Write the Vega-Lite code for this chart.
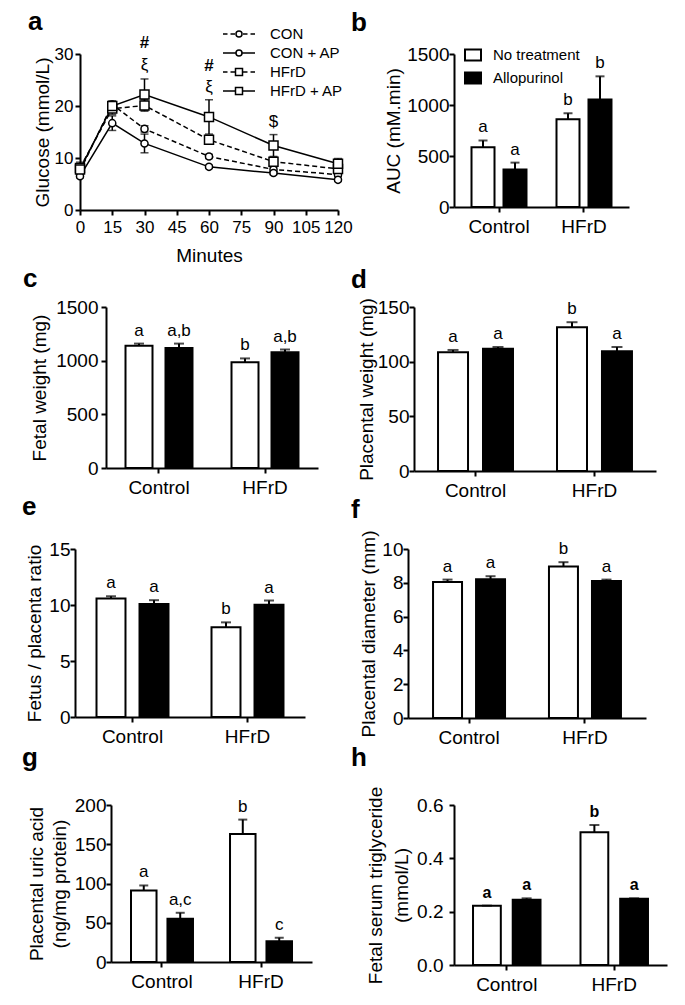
{
  "$schema": "https://vega.github.io/schema/vega-lite/v6.json",
  "padding": {"left": 10, "top": 9, "right": 5, "bottom": 5},
  "config": {
    "view": {"stroke": null},
    "font": "Liberation Sans",
    "axis": {"domainColor": "black", "domainWidth": 2, "tickColor": "black", "tickWidth": 2, "tickSize": 5, "labelColor": "black", "labelFontSize": 19, "labelFont": "Liberation Sans", "titleFont": "Liberation Sans", "titleFontSize": 19, "titleFontWeight": "normal", "titleColor": "black", "grid": false, "labelFlush": false, "labelOverlap": false},
    "title": {"font": "Liberation Sans", "fontSize": 26, "fontWeight": "bold", "color": "black", "anchor": "start", "frame": "group", "baseline": "alphabetic"},
    "legend": {"labelFont": "Liberation Sans", "labelColor": "black", "labelFontSize": 15},
    "text": {"font": "Liberation Sans", "color": "black"}
  },
  "resolve": {"scale": {"fill": "independent", "xOffset": "independent", "shape": "independent"}},
  "spacing": 1,
  "vconcat": [
    {
      "spacing": -2,
      "resolve": {"scale": {"fill": "independent", "xOffset": "independent", "shape": "independent"}},
      "hconcat": [
        {
          "spacing": 0,
          "resolve": {"scale": {"fill": "independent", "xOffset": "independent", "shape": "independent"}},
          "hconcat": [
            {"width": 18, "height": 1, "data": {"values": []}, "mark": "point"},
            {
              "width": 258, "height": 156,
              "title": {"text": "a", "dx": -52, "offset": -10},
              "data": {"values": [
                {"series": "CON", "minute": 0, "glucose": 7.5, "lo": 7.2, "hi": 7.8},
                {"series": "CON", "minute": 15, "glucose": 20.3, "lo": 19.6, "hi": 21.0},
                {"series": "CON", "minute": 30, "glucose": 15.6, "lo": 15.0, "hi": 16.2},
                {"series": "CON", "minute": 60, "glucose": 10.3, "lo": 9.9, "hi": 10.7},
                {"series": "CON", "minute": 90, "glucose": 7.8, "lo": 7.4, "hi": 8.2},
                {"series": "CON", "minute": 120, "glucose": 6.8, "lo": 6.5, "hi": 7.1},
                {"series": "CON + AP", "minute": 0, "glucose": 6.5, "lo": 6.2, "hi": 6.8},
                {"series": "CON + AP", "minute": 15, "glucose": 16.7, "lo": 15.3, "hi": 18.1},
                {"series": "CON + AP", "minute": 30, "glucose": 12.8, "lo": 11.0, "hi": 14.6},
                {"series": "CON + AP", "minute": 60, "glucose": 8.3, "lo": 8.0, "hi": 8.6},
                {"series": "CON + AP", "minute": 90, "glucose": 7.1, "lo": 6.8, "hi": 7.4},
                {"series": "CON + AP", "minute": 120, "glucose": 5.8, "lo": 5.5, "hi": 6.1},
                {"series": "HFrD", "minute": 0, "glucose": 8.1, "lo": 7.7, "hi": 8.5},
                {"series": "HFrD", "minute": 15, "glucose": 19.5, "lo": 18.4, "hi": 20.6},
                {"series": "HFrD", "minute": 30, "glucose": 20.1, "lo": 19.0, "hi": 21.2},
                {"series": "HFrD", "minute": 60, "glucose": 13.5, "lo": 12.7, "hi": 14.3},
                {"series": "HFrD", "minute": 90, "glucose": 9.3, "lo": 8.5, "hi": 10.1},
                {"series": "HFrD", "minute": 120, "glucose": 7.9, "lo": 7.3, "hi": 8.5},
                {"series": "HFrD + AP", "minute": 0, "glucose": 7.8, "lo": 6.6, "hi": 9.2},
                {"series": "HFrD + AP", "minute": 15, "glucose": 20.0, "lo": 19.2, "hi": 20.8},
                {"series": "HFrD + AP", "minute": 30, "glucose": 22.2, "lo": 19.2, "hi": 25.2},
                {"series": "HFrD + AP", "minute": 60, "glucose": 17.9, "lo": 14.6, "hi": 21.2},
                {"series": "HFrD + AP", "minute": 90, "glucose": 12.4, "lo": 10.3, "hi": 14.5},
                {"series": "HFrD + AP", "minute": 120, "glucose": 8.9, "lo": 7.9, "hi": 9.9}
              ]},
              "layer": [
                {
                  "mark": {"type": "rule", "color": "black", "strokeWidth": 1.5},
                  "encoding": {
                    "x": {"field": "minute", "type": "quantitative", "title": "Minutes", "scale": {"domain": [0, 120], "nice": false}, "axis": {"values": [0, 15, 30, 45, 60, 75, 90, 105, 120], "format": "d", "tickCount": 20, "labelFontSize": 17, "labelPadding": 4, "titlePadding": 11, "labelOverlap": false, "labelFlush": false}},
                    "y": {"field": "lo", "type": "quantitative", "title": "Glucose (mmol/L)", "scale": {"domain": [0, 30], "nice": false}, "axis": {"values": [0, 10, 20, 30], "format": "d", "tickCount": 20, "labelFontSize": 17, "labelPadding": 2, "titlePadding": 2, "labelOverlap": false, "labelFlush": false}},
                    "y2": {"field": "hi"}
                  }
                },
                {
                  "mark": {"type": "tick", "orient": "horizontal", "size": 8, "thickness": 1.5, "color": "black"},
                  "encoding": {
                    "x": {"field": "minute", "type": "quantitative", "title": "Minutes"},
                    "y": {"field": "hi", "type": "quantitative", "title": "Glucose (mmol/L)"}
                  }
                },
                {
                  "mark": {"type": "tick", "orient": "horizontal", "size": 8, "thickness": 1.5, "color": "black"},
                  "encoding": {
                    "x": {"field": "minute", "type": "quantitative", "title": "Minutes"},
                    "y": {"field": "lo", "type": "quantitative", "title": "Glucose (mmol/L)"}
                  }
                },
                {
                  "transform": [{"filter": {"field": "series", "oneOf": ["CON", "HFrD"]}}],
                  "mark": {"type": "line", "color": "black", "strokeWidth": 1.5, "strokeDash": [5, 3]},
                  "encoding": {
                    "x": {"field": "minute", "type": "quantitative", "title": "Minutes"},
                    "y": {"field": "glucose", "type": "quantitative", "title": "Glucose (mmol/L)"},
                    "detail": {"field": "series", "type": "nominal"}
                  }
                },
                {
                  "transform": [{"filter": {"field": "series", "oneOf": ["CON + AP", "HFrD + AP"]}}],
                  "mark": {"type": "line", "color": "black", "strokeWidth": 1.5},
                  "encoding": {
                    "x": {"field": "minute", "type": "quantitative", "title": "Minutes"},
                    "y": {"field": "glucose", "type": "quantitative", "title": "Glucose (mmol/L)"},
                    "detail": {"field": "series", "type": "nominal"}
                  }
                },
                {
                  "transform": [{"filter": {"field": "series", "oneOf": ["CON", "CON + AP"]}}],
                  "mark": {"type": "point", "shape": "circle", "size": 50, "filled": true, "fill": "white", "stroke": "black", "strokeWidth": 1.5, "opacity": 1},
                  "encoding": {
                    "x": {"field": "minute", "type": "quantitative", "title": "Minutes"},
                    "y": {"field": "glucose", "type": "quantitative", "title": "Glucose (mmol/L)"}
                  }
                },
                {
                  "transform": [{"filter": {"field": "series", "oneOf": ["HFrD", "HFrD + AP"]}}],
                  "mark": {"type": "point", "shape": "square", "size": 81, "filled": true, "fill": "white", "stroke": "black", "strokeWidth": 1.5, "opacity": 1},
                  "encoding": {
                    "x": {"field": "minute", "type": "quantitative", "title": "Minutes"},
                    "y": {"field": "glucose", "type": "quantitative", "title": "Glucose (mmol/L)"}
                  }
                },
                {
                  "transform": [{"filter": "false"}],
                  "mark": {"type": "point", "filled": false, "color": "black", "strokeWidth": 1.5, "opacity": 1},
                  "encoding": {
                    "x": {"field": "minute", "type": "quantitative", "title": "Minutes"},
                    "y": {"field": "glucose", "type": "quantitative", "title": "Glucose (mmol/L)"},
                    "shape": {
                      "field": "series", "type": "nominal",
                      "scale": {
                        "domain": ["CON", "CON + AP", "HFrD", "HFrD + AP"],
                        "range": [
                          "M-3,0H-2.4375M-2.0625,0H-1.5M-1.375,0A0.375,0.375,0,1,1,-0.625,0A0.375,0.375,0,1,1,-1.375,0ZM-0.5,0H0.0625M0.4375,0H1",
                          "M-3,0H-1.375M-0.625,0H1M-1.375,0A0.375,0.375,0,1,1,-0.625,0A0.375,0.375,0,1,1,-1.375,0Z",
                          "M-3,0H-2.4375M-2.0625,0H-1.5M-1.4375,-0.4375H-0.5625V0.4375H-1.4375ZM-0.5,0H0.0625M0.4375,0H1",
                          "M-3,0H-1.4375M-0.5625,0H1M-1.4375,-0.4375H-0.5625V0.4375H-1.4375Z"
                        ]
                      },
                      "legend": {
                        "orient": "none", "legendX": 158, "legendY": -29, "title": null, "padding": 0, "rowPadding": 2,
                        "labelOffset": 14, "labelFontSize": 15, "symbolSize": 256,
                        "symbolStrokeColor": "black", "symbolStrokeWidth": 1.5, "symbolOpacity": 1
                      }
                    }
                  }
                },
                {
                  "data": {"values": [
                    {"minute": 30, "yv": 32.1, "t": "#"},
                    {"minute": 60, "yv": 27.6, "t": "#"}
                  ]},
                  "mark": {"type": "text", "fontSize": 17, "fontWeight": "bold", "baseline": "middle"},
                  "encoding": {
                    "x": {"field": "minute", "type": "quantitative", "title": "Minutes"},
                    "y": {"field": "yv", "type": "quantitative", "title": "Glucose (mmol/L)"},
                    "text": {"field": "t"}
                  }
                },
                {
                  "data": {"values": [
                    {"minute": 30, "yv": 27.9, "t": "ξ"},
                    {"minute": 60, "yv": 23.6, "t": "ξ"},
                    {"minute": 90, "yv": 17.0, "t": "$"}
                  ]},
                  "mark": {"type": "text", "fontSize": 17, "baseline": "middle"},
                  "encoding": {
                    "x": {"field": "minute", "type": "quantitative", "title": "Minutes"},
                    "y": {"field": "yv", "type": "quantitative", "title": "Glucose (mmol/L)"},
                    "text": {"field": "t"}
                  }
                }
              ]
            }
          ]
        },
        {
          "width": 175, "height": 153,
          "title": {"text": "b", "dx": -103, "offset": 9},
          "data": {"values": [
            {"group": "Control", "treatment": "No treatment", "mean": 587, "upper": 652, "sig": "a"},
            {"group": "Control", "treatment": "Allopurinol", "mean": 368, "upper": 435, "sig": "a"},
            {"group": "HFrD", "treatment": "No treatment", "mean": 861, "upper": 919, "sig": "b"},
            {"group": "HFrD", "treatment": "Allopurinol", "mean": 1055, "upper": 1281, "sig": "b"}
          ]},
          "encoding": {
            "x": {"field": "group", "type": "nominal", "sort": ["Control", "HFrD"], "title": null, "scale": {"paddingInner": 0.353, "paddingOuter": 0.206}, "axis": {"labelAngle": 0, "labelPadding": 5}},
            "xOffset": {"field": "treatment", "type": "nominal", "sort": ["No treatment", "Allopurinol"], "scale": {"paddingInner": 0.281, "paddingOuter": 0}}
          },
          "layer": [
            {
              "mark": {"type": "bar", "stroke": "black", "strokeWidth": 2},
              "encoding": {
                "y": {"field": "mean", "type": "quantitative", "title": "AUC (mM.min)", "scale": {"domain": [0, 1500], "nice": false}, "axis": {"values": [0, 500, 1000, 1500], "tickCount": 20, "format": "d", "labelPadding": 0, "titlePadding": 3, "labelOverlap": false, "labelFlush": false}},
                "fill": {
                  "field": "treatment", "type": "nominal",
                  "scale": {"domain": ["No treatment", "Allopurinol"], "range": ["white", "black"]},
                  "legend": {
                    "orient": "none", "legendX": 10, "legendY": -8, "title": null, "padding": 0, "rowPadding": 3,
                    "labelOffset": 11, "labelFontSize": 15, "symbolType": "M-1,-0.68H1V0.68H-1Z", "symbolSize": 256,
                    "symbolStrokeColor": "black", "symbolStrokeWidth": 2
                  }
                }
              }
            },
            {"mark": {"type": "rule", "color": "black", "strokeWidth": 2}, "encoding": {"y": {"field": "mean", "type": "quantitative", "title": "AUC (mM.min)"}, "y2": {"field": "upper"}}},
            {"mark": {"type": "tick", "color": "black", "thickness": 2, "size": 9}, "encoding": {"y": {"field": "upper", "type": "quantitative", "title": "AUC (mM.min)"}}},
            {"mark": {"type": "text", "baseline": "alphabetic", "dy": -8, "fontSize": 17}, "encoding": {"y": {"field": "upper", "type": "quantitative", "title": "AUC (mM.min)"}, "text": {"field": "sig"}}}
          ]
        }
      ]
    },
    {
      "spacing": -6,
      "resolve": {"scale": {"fill": "independent", "xOffset": "independent", "shape": "independent"}},
      "vconcat": [
        {
          "spacing": 33,
          "resolve": {"scale": {"fill": "independent", "xOffset": "independent", "shape": "independent"}},
          "hconcat": [
            {
              "spacing": 0,
              "resolve": {"scale": {"fill": "independent", "xOffset": "independent", "shape": "independent"}},
              "hconcat": [
                {"width": 13, "height": 1, "data": {"values": []}, "mark": "point"},
                {
                  "width": 212, "height": 161,
                  "title": {"text": "c", "dx": -83, "offset": 6},
                  "data": {"values": [
                    {"group": "Control", "treatment": "No treatment", "mean": 1139, "upper": 1159, "sig": "a"},
                    {"group": "Control", "treatment": "Allopurinol", "mean": 1117, "upper": 1159, "sig": "a,b"},
                    {"group": "HFrD", "treatment": "No treatment", "mean": 986, "upper": 1021, "sig": "b"},
                    {"group": "HFrD", "treatment": "Allopurinol", "mean": 1079, "upper": 1104, "sig": "a,b"}
                  ]},
                  "encoding": {
                    "x": {"field": "group", "type": "nominal", "sort": ["Control", "HFrD"], "title": null, "scale": {"paddingInner": 0.368, "paddingOuter": 0.184}, "axis": {"labelAngle": 0, "labelPadding": 5}},
                    "xOffset": {"field": "treatment", "type": "nominal", "sort": ["No treatment", "Allopurinol"], "scale": {"paddingInner": 0.325, "paddingOuter": 0}}
                  },
                  "layer": [
                    {
                      "mark": {"type": "bar", "stroke": "black", "strokeWidth": 2},
                      "encoding": {
                        "y": {"field": "mean", "type": "quantitative", "title": "Fetal weight (mg)", "scale": {"domain": [0, 1500], "nice": false}, "axis": {"values": [0, 500, 1000, 1500], "tickCount": 20, "format": "d", "labelPadding": 3, "titlePadding": 6, "labelOverlap": false, "labelFlush": false}},
                        "fill": {"field": "treatment", "type": "nominal", "scale": {"domain": ["No treatment", "Allopurinol"], "range": ["white", "black"]}, "legend": null}
                      }
                    },
                    {"mark": {"type": "rule", "color": "black", "strokeWidth": 2}, "encoding": {"y": {"field": "mean", "type": "quantitative", "title": "Fetal weight (mg)"}, "y2": {"field": "upper"}}},
                    {"mark": {"type": "tick", "color": "black", "thickness": 2, "size": 10}, "encoding": {"y": {"field": "upper", "type": "quantitative", "title": "Fetal weight (mg)"}}},
                    {"mark": {"type": "text", "baseline": "alphabetic", "dy": -8, "fontSize": 17}, "encoding": {"y": {"field": "upper", "type": "quantitative", "title": "Fetal weight (mg)"}, "text": {"field": "sig"}}}
                  ]
                }
              ]
            },
            {
              "width": 242, "height": 164,
              "title": {"text": "d", "dx": -63, "offset": 5},
              "data": {"values": [
                {"group": "Control", "treatment": "No treatment", "mean": 108.7, "upper": 110.7, "sig": "a"},
                {"group": "Control", "treatment": "Allopurinol", "mean": 111.9, "upper": 113.4, "sig": "a"},
                {"group": "HFrD", "treatment": "No treatment", "mean": 131.4, "upper": 136.1, "sig": "b"},
                {"group": "HFrD", "treatment": "Allopurinol", "mean": 109.5, "upper": 113.4, "sig": "a"}
              ]},
              "encoding": {
                "x": {"field": "group", "type": "nominal", "sort": ["Control", "HFrD"], "title": null, "scale": {"paddingInner": 0.37, "paddingOuter": 0.202}, "axis": {"labelAngle": 0, "labelPadding": 5}},
                "xOffset": {"field": "treatment", "type": "nominal", "sort": ["No treatment", "Allopurinol"], "scale": {"paddingInner": 0.333, "paddingOuter": 0}}
              },
              "layer": [
                {
                  "mark": {"type": "bar", "stroke": "black", "strokeWidth": 2},
                  "encoding": {
                    "y": {"field": "mean", "type": "quantitative", "title": "Placental weight (mg)", "scale": {"domain": [0, 150], "nice": false}, "axis": {"values": [0, 50, 100, 150], "format": "d", "tickCount": 20, "labelPadding": 0, "titlePadding": 1, "labelOverlap": false, "labelFlush": false}},
                    "fill": {"field": "treatment", "type": "nominal", "scale": {"domain": ["No treatment", "Allopurinol"], "range": ["white", "black"]}, "legend": null}
                  }
                },
                {"mark": {"type": "rule", "color": "black", "strokeWidth": 2}, "encoding": {"y": {"field": "mean", "type": "quantitative", "title": "Placental weight (mg)"}, "y2": {"field": "upper"}}},
                {"mark": {"type": "tick", "color": "black", "thickness": 2, "size": 11}, "encoding": {"y": {"field": "upper", "type": "quantitative", "title": "Placental weight (mg)"}}},
                {"mark": {"type": "text", "baseline": "alphabetic", "dy": -8, "fontSize": 17}, "encoding": {"y": {"field": "upper", "type": "quantitative", "title": "Placental weight (mg)"}, "text": {"field": "sig"}}}
              ]
            }
          ]
        },
        {
          "spacing": -2,
          "resolve": {"scale": {"fill": "independent", "xOffset": "independent", "shape": "independent"}},
          "vconcat": [
            {
              "spacing": 46,
              "resolve": {"scale": {"fill": "independent", "xOffset": "independent", "shape": "independent"}},
              "hconcat": [
                {
                  "spacing": 0,
                  "resolve": {"scale": {"fill": "independent", "xOffset": "independent", "shape": "independent"}},
                  "hconcat": [
                    {"width": 12, "height": 1, "data": {"values": []}, "mark": "point"},
                    {
                      "width": 230, "height": 168,
                      "title": {"text": "e", "dx": -53, "offset": 20},
                      "data": {"values": [
                        {"group": "Control", "treatment": "No treatment", "mean": 10.57, "upper": 10.78, "sig": "a"},
                        {"group": "Control", "treatment": "Allopurinol", "mean": 10.08, "upper": 10.43, "sig": "a"},
                        {"group": "HFrD", "treatment": "No treatment", "mean": 8.01, "upper": 8.45, "sig": "b"},
                        {"group": "HFrD", "treatment": "Allopurinol", "mean": 10.02, "upper": 10.40, "sig": "a"}
                      ]},
                      "encoding": {
                        "x": {"field": "group", "type": "nominal", "sort": ["Control", "HFrD"], "title": null, "scale": {"paddingInner": 0.374, "paddingOuter": 0.187}, "axis": {"labelAngle": 0, "labelPadding": 5}},
                        "xOffset": {"field": "treatment", "type": "nominal", "sort": ["No treatment", "Allopurinol"], "scale": {"paddingInner": 0.326, "paddingOuter": 0}}
                      },
                      "layer": [
                        {
                          "mark": {"type": "bar", "stroke": "black", "strokeWidth": 2},
                          "encoding": {
                            "y": {"field": "mean", "type": "quantitative", "title": "Fetus / placenta ratio", "scale": {"domain": [0, 15], "nice": false}, "axis": {"values": [0, 5, 10, 15], "format": "d", "tickCount": 20, "labelPadding": 0, "titlePadding": 4, "labelOverlap": false, "labelFlush": false}},
                            "fill": {"field": "treatment", "type": "nominal", "scale": {"domain": ["No treatment", "Allopurinol"], "range": ["white", "black"]}, "legend": null}
                          }
                        },
                        {"mark": {"type": "rule", "color": "black", "strokeWidth": 2}, "encoding": {"y": {"field": "mean", "type": "quantitative", "title": "Fetus / placenta ratio"}, "y2": {"field": "upper"}}},
                        {"mark": {"type": "tick", "color": "black", "thickness": 2, "size": 10}, "encoding": {"y": {"field": "upper", "type": "quantitative", "title": "Fetus / placenta ratio"}}},
                        {"mark": {"type": "text", "baseline": "alphabetic", "dy": -8, "fontSize": 17}, "encoding": {"y": {"field": "upper", "type": "quantitative", "title": "Fetus / placenta ratio"}, "text": {"field": "sig"}}}
                      ]
                    }
                  ]
                },
                {
                  "width": 238, "height": 169,
                  "title": {"text": "f", "dx": -57, "offset": 7},
                  "data": {"values": [
                    {"group": "Control", "treatment": "No treatment", "mean": 8.05, "upper": 8.19, "sig": "a"},
                    {"group": "Control", "treatment": "Allopurinol", "mean": 8.21, "upper": 8.39, "sig": "a"},
                    {"group": "HFrD", "treatment": "No treatment", "mean": 8.97, "upper": 9.22, "sig": "b"},
                    {"group": "HFrD", "treatment": "Allopurinol", "mean": 8.11, "upper": 8.19, "sig": "a"}
                  ]},
                  "encoding": {
                    "x": {"field": "group", "type": "nominal", "sort": ["Control", "HFrD"], "title": null, "scale": {"paddingInner": 0.379, "paddingOuter": 0.216}, "axis": {"labelAngle": 0, "labelPadding": 5}},
                    "xOffset": {"field": "treatment", "type": "nominal", "sort": ["No treatment", "Allopurinol"], "scale": {"paddingInner": 0.326, "paddingOuter": 0}}
                  },
                  "layer": [
                    {
                      "mark": {"type": "bar", "stroke": "black", "strokeWidth": 2},
                      "encoding": {
                        "y": {"field": "mean", "type": "quantitative", "title": "Placental diameter (mm)", "scale": {"domain": [0, 10], "nice": false}, "axis": {"values": [0, 2, 4, 6, 8, 10], "format": "d", "tickCount": 20, "labelPadding": 0, "titlePadding": 3, "labelOverlap": false, "labelFlush": false}},
                        "fill": {"field": "treatment", "type": "nominal", "scale": {"domain": ["No treatment", "Allopurinol"], "range": ["white", "black"]}, "legend": null}
                      }
                    },
                    {"mark": {"type": "rule", "color": "black", "strokeWidth": 2}, "encoding": {"y": {"field": "mean", "type": "quantitative", "title": "Placental diameter (mm)"}, "y2": {"field": "upper"}}},
                    {"mark": {"type": "tick", "color": "black", "thickness": 2, "size": 10}, "encoding": {"y": {"field": "upper", "type": "quantitative", "title": "Placental diameter (mm)"}}},
                    {"mark": {"type": "text", "baseline": "alphabetic", "dy": -8, "fontSize": 17}, "encoding": {"y": {"field": "upper", "type": "quantitative", "title": "Placental diameter (mm)"}, "text": {"field": "sig"}}}
                  ]
                }
              ]
            },
            {
              "spacing": 39,
              "resolve": {"scale": {"fill": "independent", "xOffset": "independent", "shape": "independent"}},
              "hconcat": [
                {
                  "spacing": 0,
                  "resolve": {"scale": {"fill": "independent", "xOffset": "independent", "shape": "independent"}},
                  "hconcat": [
                    {"width": 12, "height": 1, "data": {"values": []}, "mark": "point"},
                    {
                      "width": 201, "height": 157,
                      "title": {"text": "g", "dx": -89, "offset": 25},
                      "data": {"values": [
                        {"group": "Control", "treatment": "No treatment", "mean": 91.1, "upper": 97.5, "sig": "a"},
                        {"group": "Control", "treatment": "Allopurinol", "mean": 55.1, "upper": 62.7, "sig": "a,c"},
                        {"group": "HFrD", "treatment": "No treatment", "mean": 163.1, "upper": 181.4, "sig": "b"},
                        {"group": "HFrD", "treatment": "Allopurinol", "mean": 26.3, "upper": 30.9, "sig": "c"}
                      ]},
                      "encoding": {
                        "x": {"field": "group", "type": "nominal", "sort": ["Control", "HFrD"], "title": null, "scale": {"paddingInner": 0.374, "paddingOuter": 0.202}, "axis": {"labelAngle": 0, "labelPadding": 5}},
                        "xOffset": {"field": "treatment", "type": "nominal", "sort": ["No treatment", "Allopurinol"], "scale": {"paddingInner": 0.3, "paddingOuter": 0}}
                      },
                      "layer": [
                        {
                          "mark": {"type": "bar", "stroke": "black", "strokeWidth": 2},
                          "encoding": {
                            "y": {"field": "mean", "type": "quantitative", "title": ["Placental uric acid", "(ng/mg protein)"], "scale": {"domain": [0, 200], "nice": false}, "axis": {"values": [0, 50, 100, 150, 200], "format": "d", "tickCount": 20, "labelPadding": 0, "titlePadding": 5, "titleLineHeight": 23, "labelOverlap": false, "labelFlush": false}},
                            "fill": {"field": "treatment", "type": "nominal", "scale": {"domain": ["No treatment", "Allopurinol"], "range": ["white", "black"]}, "legend": null}
                          }
                        },
                        {"mark": {"type": "rule", "color": "black", "strokeWidth": 2}, "encoding": {"y": {"field": "mean", "type": "quantitative", "title": ["Placental uric acid", "(ng/mg protein)"]}, "y2": {"field": "upper"}}},
                        {"mark": {"type": "tick", "color": "black", "thickness": 2, "size": 9}, "encoding": {"y": {"field": "upper", "type": "quantitative", "title": ["Placental uric acid", "(ng/mg protein)"]}}},
                        {"mark": {"type": "text", "baseline": "alphabetic", "dy": -8, "fontSize": 17}, "encoding": {"y": {"field": "upper", "type": "quantitative", "title": ["Placental uric acid", "(ng/mg protein)"]}, "text": {"field": "sig"}}}
                      ]
                    }
                  ]
                },
                {
                  "width": 213, "height": 160,
                  "title": {"text": "h", "dx": -103, "offset": 15},
                  "data": {"values": [
                    {"group": "Control", "treatment": "No treatment", "mean": 0.2226, "upper": 0.2226, "sig": "a"},
                    {"group": "Control", "treatment": "Allopurinol", "mean": 0.245, "upper": 0.250, "sig": "a"},
                    {"group": "HFrD", "treatment": "No treatment", "mean": 0.498, "upper": 0.525, "sig": "b"},
                    {"group": "HFrD", "treatment": "Allopurinol", "mean": 0.248, "upper": 0.250, "sig": "a"}
                  ]},
                  "encoding": {
                    "x": {"field": "group", "type": "nominal", "sort": ["Control", "HFrD"], "title": null, "scale": {"paddingInner": 0.372, "paddingOuter": 0.177}, "axis": {"labelAngle": 0, "labelPadding": 5}},
                    "xOffset": {"field": "treatment", "type": "nominal", "sort": ["No treatment", "Allopurinol"], "scale": {"paddingInner": 0.3, "paddingOuter": 0}}
                  },
                  "layer": [
                    {
                      "mark": {"type": "bar", "stroke": "black", "strokeWidth": 2},
                      "encoding": {
                        "y": {"field": "mean", "type": "quantitative", "title": ["Fetal serum triglyceride", "(mmol/L)"], "scale": {"domain": [0, 0.6], "nice": false}, "axis": {"values": [0, 0.2, 0.4, 0.6], "tickCount": 20, "format": ".1f", "labelPadding": 6, "titlePadding": 5, "titleLineHeight": 26, "labelOverlap": false, "labelFlush": false}},
                        "fill": {"field": "treatment", "type": "nominal", "scale": {"domain": ["No treatment", "Allopurinol"], "range": ["white", "black"]}, "legend": null}
                      }
                    },
                    {"mark": {"type": "rule", "color": "black", "strokeWidth": 2}, "encoding": {"y": {"field": "mean", "type": "quantitative", "title": ["Fetal serum triglyceride", "(mmol/L)"]}, "y2": {"field": "upper"}}},
                    {"mark": {"type": "tick", "color": "black", "thickness": 2, "size": 10}, "encoding": {"y": {"field": "upper", "type": "quantitative", "title": ["Fetal serum triglyceride", "(mmol/L)"]}}},
                    {"mark": {"type": "text", "baseline": "alphabetic", "dy": -8, "fontSize": 16, "fontWeight": "bold"}, "encoding": {"y": {"field": "upper", "type": "quantitative", "title": ["Fetal serum triglyceride", "(mmol/L)"]}, "text": {"field": "sig"}}}
                  ]
                }
              ]
            }
          ]
        }
      ]
    }
  ]
}
